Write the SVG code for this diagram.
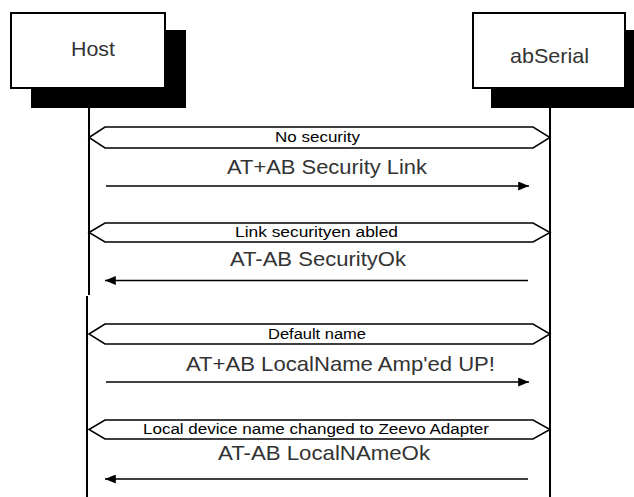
<svg xmlns="http://www.w3.org/2000/svg" width="634" height="497" viewBox="0 0 634 497">
<defs>
<style>
.box{fill:#fff;stroke:#000;stroke-width:2}
.shadow{fill:#000}
.life{stroke:#000;stroke-width:2;fill:none}
.band{fill:#fff;stroke:#000;stroke-width:1.5}
.bt{font-family:"Liberation Sans",Arial,sans-serif;font-size:14px;fill:#000}
.mt{font-family:"Liberation Sans",Arial,sans-serif;font-size:21px;fill:#333}
.nt{font-family:"Liberation Sans",Arial,sans-serif;font-size:21px;fill:#333}
.msg{stroke:#000;stroke-width:1.5;fill:none;marker-end:url(#ah)}
</style>
<marker id="ah" viewBox="0 0 12 10" refX="12" refY="5" markerWidth="11" markerHeight="9" markerUnits="userSpaceOnUse" orient="auto">
<path d="M0,0 L12,5 L0,10 Z" fill="#000"/>
</marker>
</defs>
<rect width="634" height="497" fill="#fff"/>
<g id="connectors">
<line class="life" x1="89" y1="108" x2="89" y2="295"/>
<line class="life" x1="87" y1="296" x2="87" y2="497"/>
<line class="life" x1="550" y1="108" x2="550" y2="497"/>
<line class="msg" x1="106" y1="186" x2="529" y2="186"/>
<line class="msg" x1="528" y1="280.5" x2="105" y2="280.5"/>
<line class="msg" x1="106" y1="382" x2="529" y2="382"/>
<line class="msg" x1="528" y1="479" x2="105" y2="479"/>
</g>
<g id="host">
<rect class="shadow" x="31" y="30" width="155" height="78"/>
<rect class="box" x="11" y="13" width="154" height="75"/>
<text class="nt" x="93" y="56" text-anchor="middle" textLength="44" lengthAdjust="spacingAndGlyphs">Host</text>
</g>
<g id="abserial">
<rect class="shadow" x="491" y="30" width="145" height="78"/>
<rect class="box" x="473" y="13" width="152" height="75"/>
<text class="nt" x="549.5" y="63" text-anchor="middle" textLength="79" lengthAdjust="spacingAndGlyphs">abSerial</text>
</g>
<g id="band1">
<path class="band" d="M89,137.5 L105,127 L533,127 L550,137.5 L533,148 L105,148 Z"/>
<text class="bt" x="275" y="142" textLength="85" lengthAdjust="spacingAndGlyphs">No security</text>
</g>
<g id="msg1">
<text class="mt" x="227" y="174" textLength="200" lengthAdjust="spacingAndGlyphs">AT+AB Security Link</text>
</g>
<g id="band2">
<path class="band" d="M89,232.5 L105,223 L533,223 L550,232.5 L533,242 L105,242 Z"/>
<text class="bt" x="235" y="237" textLength="163" lengthAdjust="spacingAndGlyphs">Link securityen abled</text>
</g>
<g id="msg2">
<text class="mt" x="230" y="266" textLength="176" lengthAdjust="spacingAndGlyphs">AT-AB SecurityOk</text>
</g>
<g id="band3">
<path class="band" d="M89,334 L105,324 L533,324 L550,334 L533,344 L105,344 Z"/>
<text class="bt" x="268" y="339" textLength="98" lengthAdjust="spacingAndGlyphs">Default name</text>
</g>
<g id="msg3">
<text class="mt" x="186" y="371" textLength="309" lengthAdjust="spacingAndGlyphs">AT+AB LocalName Amp'ed UP!</text>
</g>
<g id="band4">
<path class="band" d="M89,429.5 L105,420 L533,420 L550,429.5 L533,439 L105,439 Z"/>
<text class="bt" x="143" y="434" textLength="346" lengthAdjust="spacingAndGlyphs">Local device name changed to Zeevo Adapter</text>
</g>
<g id="msg4">
<text class="mt" x="218" y="460" textLength="212" lengthAdjust="spacingAndGlyphs">AT-AB LocalNAmeOk</text>
</g>
</svg>
